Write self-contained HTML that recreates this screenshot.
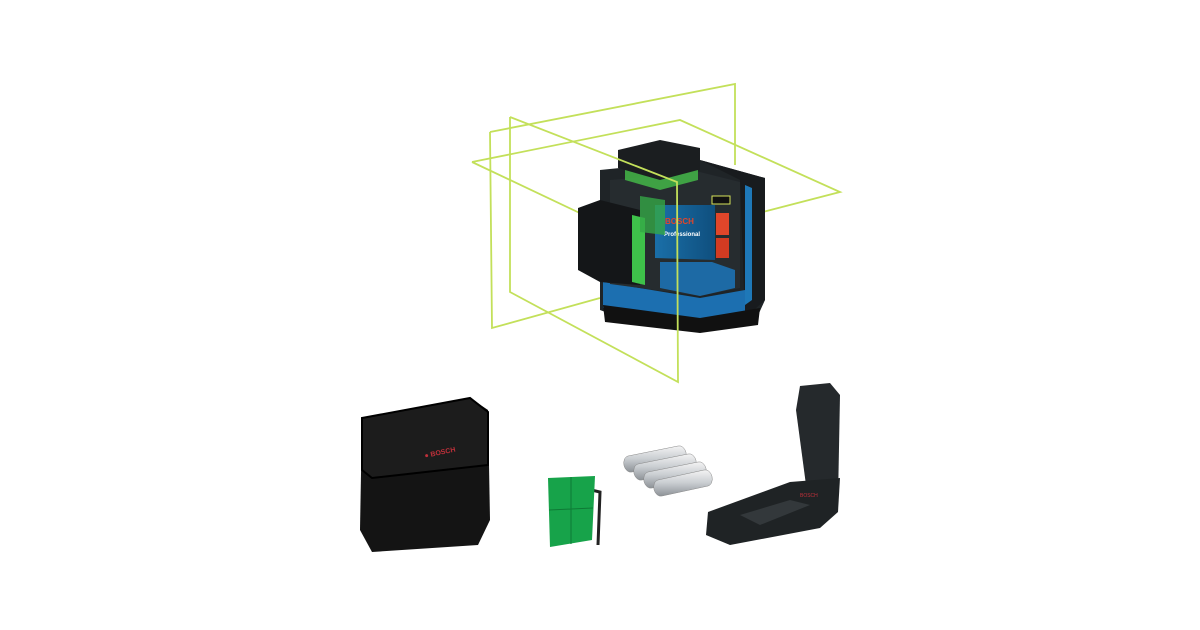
<!DOCTYPE html>
<html><head><meta charset="utf-8"><style>
html,body{margin:0;padding:0;background:#fff;}
svg{display:block}
</style></head><body>
<svg width="1200" height="630" viewBox="0 0 1200 630" xmlns="http://www.w3.org/2000/svg">
<rect width="1200" height="630" fill="#fff"/>
<defs>
<linearGradient id="bat" x1="0" y1="0" x2="0" y2="1"><stop offset="0" stop-color="#f4f4f4"/><stop offset="0.5" stop-color="#c9cdd1"/><stop offset="1" stop-color="#8d9297"/></linearGradient>
<linearGradient id="blue" x1="0" y1="0" x2="1" y2="0"><stop offset="0" stop-color="#1a6fa8"/><stop offset="1" stop-color="#0f4f7e"/></linearGradient>
</defs>
<g fill="none" stroke="#c3e05a" stroke-width="1.8">
<polyline points="490,132 735,84 735,165"/>
<polyline points="490,132 492,328 600,298"/>
<polyline points="472,162 680,120 840,192 643,243 472,162"/>
</g>
<g>
<path d="M600,170 L700,160 L765,178 L765,300 L755,322 L700,330 L640,325 L600,310 Z" fill="#1f2427"/>
<path d="M700,160 L765,178 L765,300 L745,318 L740,180 Z" fill="#181b1e"/>
<path d="M745,185 L752,188 L752,300 L745,305 Z" fill="#1e78b8"/>
<path d="M603,282 L700,298 L745,290 L745,312 L700,322 L603,308 Z" fill="#1c6fb0"/>
<path d="M603,305 L700,318 L760,308 L758,325 L700,333 L605,322 Z" fill="#111"/>
<path d="M610,180 L700,172 L740,182 L740,288 L700,296 L610,284 Z" fill="#262c2f"/>
<path d="M655,205 L715,205 L715,260 L655,258 Z" fill="url(#blue)"/>
<path d="M660,262 L712,262 L735,270 L735,288 L700,296 L660,288 Z" fill="#1d6aa5"/>
<rect x="716" y="213" width="13" height="22" fill="#e0462a"/>
<rect x="716" y="238" width="13" height="20" fill="#d23b22"/>
<rect x="712" y="196" width="18" height="8" fill="#111" stroke="#d6e35a" stroke-width="1"/>
<text x="665" y="224" font-family="Liberation Sans, sans-serif" font-size="8" font-weight="bold" fill="#e0462a">BOSCH</text>
<text x="664" y="236" font-family="Liberation Sans, sans-serif" font-size="6" font-weight="bold" fill="#fff">Professional</text>
<path d="M618,150 L660,140 L700,148 L700,170 L660,180 L618,168 Z" fill="#1b1e20"/>
<path d="M625,170 L660,180 L698,170 L698,180 L660,190 L625,180 Z" fill="#46c04a" opacity="0.8"/>
<path d="M578,208 L600,200 L640,210 L640,285 L600,282 L578,270 Z" fill="#141618"/>
<path d="M632,215 L645,218 L645,285 L632,282 Z" fill="#3ec24a"/>
<path d="M640,196 L665,200 L665,235 L640,232 Z" fill="#35a846" opacity="0.8"/>
</g>
<g fill="none" stroke="#c3e05a" stroke-width="1.8">
<polyline points="510,117 677,182 678,382 510,292 510,117"/>
</g>
<path d="M362,418 L470,398 L488,410 L490,520 L478,545 L372,552 L360,530 Z" fill="#141414"/>
<path d="M362,418 L470,398 L488,412 L488,465 L372,478 L362,470 Z" fill="#1c1c1c" stroke="#000" stroke-width="2"/>
<text x="425" y="458" font-family="Liberation Sans, sans-serif" font-size="7" font-weight="bold" fill="#c0303a" transform="rotate(-12 425 458)">● BOSCH</text>
<path d="M583,488 L600,492 L598,545" stroke="#222" stroke-width="3" fill="none"/>
<path d="M548,478 L595,476 L592,540 L550,547 Z" fill="#17a34a"/>
<path d="M571,477 L571,544 M549,510 L593,508" stroke="#0e7a35" stroke-width="1"/>
<g stroke="#888" stroke-width="0.5">
<path d="M628,456 L678,446 A6,8 -12 0 1 682,462 L632,472 A6,8 -12 0 1 628,456 Z" fill="url(#bat)"/>
<path d="M638,464 L688,454 A6,8 -12 0 1 692,470 L642,480 A6,8 -12 0 1 638,464 Z" fill="url(#bat)"/>
<path d="M648,472 L698,462 A6,8 -12 0 1 702,478 L652,488 A6,8 -12 0 1 648,472 Z" fill="url(#bat)"/>
<path d="M658,480 L704,470 A6,8 -12 0 1 708,486 L662,496 A6,8 -12 0 1 658,480 Z" fill="url(#bat)"/>
</g>
<path d="M800,386 L830,383 L840,395 L838,500 L826,515 L808,500 L796,410 Z" fill="#25292c"/>
<path d="M708,512 L790,482 L840,478 L838,512 L820,528 L730,545 L706,535 Z" fill="#1f2325"/>
<path d="M740,515 L790,500 L810,505 L760,525 Z" fill="#33383b"/>
<text x="800" y="497" font-family="Liberation Sans, sans-serif" font-size="5" fill="#c0303a">BOSCH</text>
</svg>
</body></html>
